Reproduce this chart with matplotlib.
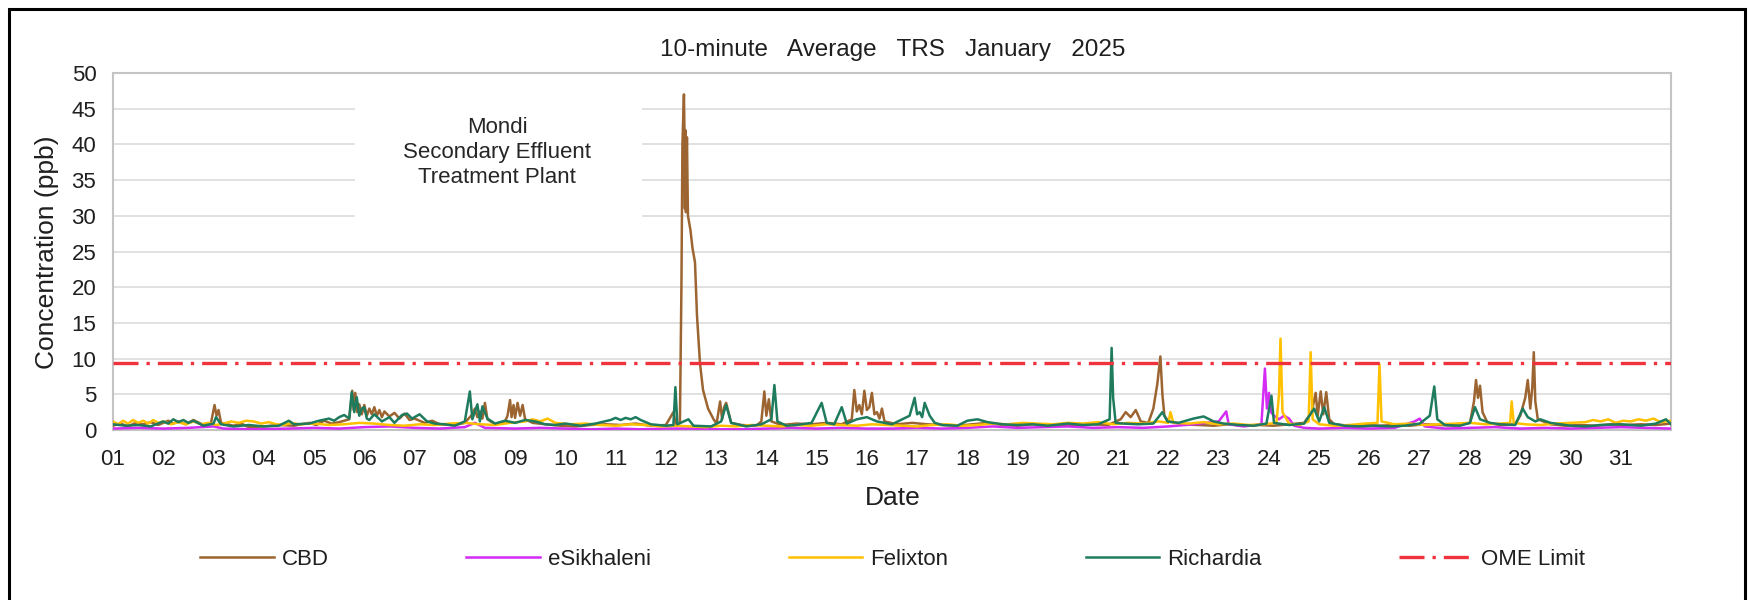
import numpy as np
import matplotlib
matplotlib.use("Agg")
import matplotlib.pyplot as plt
from matplotlib.patches import Rectangle

plt.rcParams['font.family'] = ['Liberation Sans', 'DejaVu Sans']

# time in days since 1 Jan 00:00, concentration in ppb
cbd = [(0.0, 0.6), (0.15, 0.9), (0.3, 0.5), (0.45, 1.0), (0.6, 0.8), (0.75, 1.1),
       (0.9, 0.7), (1.1, 1.3), (1.2, 0.9), (1.3, 1.2), (1.45, 0.8), (1.6, 1.4),
       (1.8, 0.7), (1.95, 1.0), (2.02, 3.5), (2.06, 2.0), (2.1, 2.8), (2.15, 1.0),
       (2.4, 0.6), (2.55, 0.9), (2.7, 0.4), (3.0, 0.5), (3.3, 0.7), (3.6, 0.6),
       (3.9, 1.0), (4.05, 0.7), (4.2, 1.3), (4.35, 0.9), (4.5, 1.1), (4.7, 1.5),
       (4.76, 5.5), (4.79, 2.8), (4.82, 5.2), (4.86, 2.5), (4.9, 3.6), (4.95, 2.2),
       (5.0, 3.5), (5.05, 2.0), (5.1, 3.0), (5.15, 2.2), (5.2, 3.2), (5.25, 2.0),
       (5.3, 2.8), (5.35, 1.8), (5.4, 2.6), (5.5, 1.9), (5.6, 2.4), (5.7, 1.6),
       (5.8, 2.3), (5.9, 1.4), (6.0, 1.6), (6.2, 1.0), (6.35, 1.3), (6.5, 0.8),
       (6.8, 0.7), (7.0, 1.0), (7.15, 2.2), (7.2, 3.0), (7.25, 1.8), (7.3, 2.6),
       (7.35, 1.6), (7.4, 3.8), (7.45, 1.5), (7.6, 0.8), (7.8, 1.2), (7.85, 2.0),
       (7.9, 4.2), (7.93, 1.8), (7.97, 3.5), (8.0, 1.7), (8.05, 3.8), (8.1, 2.0),
       (8.15, 3.5), (8.2, 1.5), (8.35, 1.0), (8.6, 0.8), (8.9, 0.6), (9.2, 0.5),
       (9.5, 0.7), (9.8, 0.8), (10.1, 0.7), (10.4, 0.9), (10.7, 0.6), (11.0, 0.7),
       (11.15, 2.5), (11.2, 0.8), (11.28, 1.0), (11.31, 20.0), (11.33, 40.0),
       (11.36, 47.0), (11.37, 42.0), (11.38, 31.0), (11.39, 42.0), (11.4, 30.5),
       (11.42, 41.0), (11.44, 30.0), (11.49, 28.0), (11.53, 25.5), (11.58, 23.5),
       (11.62, 16.0), (11.68, 9.3), (11.74, 5.6), (11.84, 3.0), (11.95, 1.5),
       (12.01, 0.9), (12.08, 4.0), (12.12, 1.5), (12.16, 3.2), (12.2, 3.8),
       (12.3, 1.0), (12.5, 0.7), (12.8, 0.6), (12.9, 1.2), (12.96, 5.4),
       (13.0, 2.0), (13.05, 4.3), (13.1, 1.2), (13.3, 0.7), (13.6, 0.9),
       (13.9, 0.8), (14.2, 1.0), (14.5, 0.8), (14.7, 1.5), (14.75, 5.6),
       (14.8, 2.6), (14.85, 3.5), (14.9, 2.2), (14.95, 5.5), (15.0, 2.8),
       (15.05, 3.2), (15.1, 5.2), (15.15, 2.2), (15.2, 2.5), (15.25, 1.6),
       (15.3, 3.0), (15.35, 1.2), (15.6, 0.8), (15.9, 1.0), (16.2, 0.8),
       (16.5, 0.7), (16.8, 0.6), (17.1, 0.8), (17.4, 1.0), (17.7, 0.7),
       (18.0, 0.6), (18.3, 0.8), (18.6, 0.7), (18.9, 0.6), (19.2, 0.7),
       (19.5, 0.8), (19.8, 0.7), (20.05, 1.5), (20.15, 2.5), (20.25, 1.8),
       (20.35, 2.8), (20.45, 1.2), (20.6, 1.0), (20.7, 3.0), (20.78, 6.5),
       (20.84, 10.3), (20.88, 5.0), (20.92, 2.0), (21.0, 1.2), (21.3, 0.8),
       (21.6, 0.7), (21.9, 0.6), (22.2, 0.8), (22.5, 0.6), (22.8, 0.7),
       (23.1, 0.6), (23.4, 0.8), (23.7, 1.0), (23.85, 2.5), (23.93, 5.2),
       (23.97, 2.0), (24.03, 5.4), (24.08, 2.2), (24.14, 5.3), (24.2, 1.5),
       (24.3, 0.8), (24.6, 0.6), (24.9, 0.7), (25.2, 0.6), (25.5, 0.7),
       (25.8, 0.6), (26.1, 0.8), (26.4, 0.7), (26.7, 0.6), (27.0, 1.0),
       (27.08, 4.0), (27.12, 7.0), (27.16, 4.5), (27.2, 6.2), (27.25, 2.5),
       (27.35, 1.0), (27.6, 0.7), (27.9, 0.8), (28.0, 2.0), (28.1, 4.5),
       (28.15, 7.0), (28.2, 3.0), (28.24, 6.0), (28.27, 10.9), (28.3, 4.0),
       (28.35, 1.5), (28.6, 0.8), (28.9, 0.6), (29.2, 0.7), (29.5, 0.6),
       (29.8, 0.8), (30.1, 0.7), (30.4, 0.8), (30.7, 0.7), (31.0, 0.9)]

esikhaleni = [(0.0, 0.2), (0.5, 0.3), (1.0, 0.2), (1.5, 0.3), (2.0, 0.5), (2.2, 0.2),
              (2.8, 0.1), (3.5, 0.2), (4.0, 0.3), (4.5, 0.2), (5.0, 0.4), (5.5, 0.5),
              (6.0, 0.3), (6.5, 0.2), (7.0, 0.4), (7.2, 1.0), (7.4, 0.3), (8.0, 0.2),
              (8.5, 0.3), (9.0, 0.2), (9.5, 0.1), (10.0, 0.2), (10.5, 0.1), (11.0, 0.2),
              (11.5, 0.2), (12.0, 0.1), (12.5, 0.1), (13.0, 0.2), (13.5, 0.3),
              (14.0, 0.2), (14.5, 0.3), (15.0, 0.2), (15.5, 0.2), (16.0, 0.3),
              (16.5, 0.2), (17.0, 0.3), (17.5, 0.5), (18.0, 0.3), (18.5, 0.4),
              (19.0, 0.5), (19.5, 0.3), (20.0, 0.4), (20.5, 0.3), (21.0, 0.5),
              (21.5, 0.8), (22.0, 1.2), (22.15, 2.6), (22.2, 0.8), (22.5, 0.5),
              (22.85, 0.8), (22.92, 8.6), (22.96, 3.0), (23.0, 5.2), (23.04, 2.5),
              (23.1, 2.0), (23.2, 1.5), (23.3, 2.0), (23.4, 1.6), (23.5, 0.6),
              (23.7, 0.3), (24.0, 0.2), (24.5, 0.3), (25.0, 0.2), (25.5, 0.3),
              (25.9, 1.2), (26.0, 1.6), (26.1, 0.5), (26.5, 0.2), (27.0, 0.3),
              (27.5, 0.4), (28.0, 0.2), (28.5, 0.3), (29.0, 0.2), (29.5, 0.3),
              (30.0, 0.4), (30.5, 0.3), (31.0, 0.2)]

felixton = [(0.0, 1.2), (0.1, 0.8), (0.2, 1.3), (0.3, 0.9), (0.4, 1.4), (0.5, 1.0),
            (0.6, 1.3), (0.7, 0.9), (0.8, 1.4), (0.9, 1.0), (1.0, 1.2), (1.15, 0.8),
            (1.3, 1.1), (1.45, 0.8), (1.6, 1.2), (1.75, 0.8), (1.9, 1.0), (2.05, 0.7),
            (2.2, 0.9), (2.35, 1.2), (2.5, 1.0), (2.65, 1.3), (2.8, 1.2), (2.95, 0.9),
            (3.1, 1.1), (3.25, 0.8), (3.4, 0.7), (3.55, 1.0), (3.7, 0.8), (4.0, 0.9),
            (4.3, 0.7), (4.6, 0.8), (4.9, 1.0), (5.2, 0.9), (5.5, 0.7), (5.8, 0.6),
            (6.1, 0.8), (6.4, 0.7), (6.7, 0.9), (7.0, 1.0), (7.3, 0.8), (7.6, 0.7),
            (7.9, 1.0), (8.2, 1.2), (8.35, 1.5), (8.5, 1.2), (8.65, 1.6), (8.8, 1.0),
            (9.1, 0.8), (9.4, 0.9), (9.7, 0.7), (10.0, 0.6), (10.3, 0.8), (10.6, 0.7),
            (10.9, 0.5), (11.2, 0.6), (11.5, 0.5), (11.8, 0.4), (12.1, 0.6),
            (12.4, 0.5), (12.7, 0.7), (13.0, 0.6), (13.3, 0.5), (13.6, 0.7),
            (13.9, 0.6), (14.2, 0.8), (14.5, 0.7), (14.8, 0.6), (15.1, 0.8),
            (15.4, 0.7), (15.7, 0.6), (16.0, 0.5), (16.3, 0.7), (16.6, 0.8),
            (16.9, 0.6), (17.2, 0.7), (17.5, 0.9), (17.8, 0.8), (18.1, 1.0),
            (18.4, 0.9), (18.7, 0.8), (19.0, 1.0), (19.3, 0.9), (19.6, 1.1),
            (19.9, 0.8), (20.2, 1.0), (20.5, 0.9), (20.8, 1.2), (21.0, 1.0),
            (21.04, 2.5), (21.1, 1.0), (21.4, 0.9), (21.7, 1.1), (22.0, 0.8),
            (22.3, 0.9), (22.6, 0.7), (22.9, 0.8), (23.15, 1.0), (23.2, 5.0),
            (23.23, 12.8), (23.27, 2.5), (23.4, 0.9), (23.6, 0.7), (23.79, 1.2),
            (23.83, 10.9), (23.87, 1.5), (24.0, 0.8), (24.3, 0.6), (24.6, 0.7),
            (24.9, 0.9), (25.16, 1.0), (25.2, 9.2), (25.24, 1.2), (25.5, 0.8),
            (25.8, 0.9), (26.1, 0.7), (26.4, 0.8), (26.7, 0.9), (27.0, 1.0),
            (27.3, 0.8), (27.6, 0.9), (27.8, 1.0), (27.83, 4.0), (27.87, 1.0),
            (28.1, 0.8), (28.4, 0.7), (28.7, 0.9), (29.0, 1.0), (29.3, 1.1),
            (29.45, 1.4), (29.6, 1.2), (29.75, 1.5), (29.9, 1.0), (30.05, 1.3),
            (30.2, 1.2), (30.35, 1.5), (30.5, 1.3), (30.65, 1.6), (30.8, 1.1),
            (31.0, 1.3)]

richardia = [(0.0, 0.8), (0.25, 0.6), (0.5, 0.7), (0.75, 0.5), (1.0, 1.2), (1.1, 0.9),
             (1.2, 1.5), (1.3, 1.1), (1.4, 1.4), (1.5, 1.0), (1.6, 1.3), (1.8, 0.6),
             (2.0, 0.9), (2.05, 1.8), (2.15, 0.8), (2.4, 0.5), (2.7, 0.7), (3.0, 0.5),
             (3.3, 0.6), (3.5, 1.3), (3.6, 0.8), (3.9, 0.9), (4.1, 1.3), (4.3, 1.6),
             (4.4, 1.3), (4.5, 1.8), (4.6, 2.1), (4.7, 1.6), (4.75, 5.3), (4.8, 2.5),
             (4.85, 4.6), (4.9, 2.0), (4.95, 3.0), (5.0, 3.2), (5.05, 1.6), (5.1, 1.4),
             (5.2, 2.2), (5.35, 1.2), (5.5, 1.8), (5.6, 1.0), (5.75, 2.1), (5.85, 2.3),
             (5.95, 1.6), (6.0, 1.8), (6.1, 2.2), (6.25, 1.2), (6.4, 0.9), (6.6, 0.8),
             (6.8, 0.6), (7.0, 1.2), (7.1, 5.4), (7.15, 1.5), (7.25, 3.6), (7.3, 1.2),
             (7.35, 3.3), (7.45, 1.6), (7.6, 0.9), (7.8, 1.3), (8.0, 1.0), (8.2, 1.4),
             (8.4, 1.2), (8.6, 0.8), (8.8, 0.7), (9.0, 0.9), (9.3, 0.6), (9.6, 0.9),
             (9.9, 1.4), (10.0, 1.7), (10.1, 1.4), (10.2, 1.7), (10.3, 1.5), (10.4, 1.8),
             (10.5, 1.4), (10.7, 0.8), (11.0, 0.6), (11.15, 0.7), (11.19, 6.0),
             (11.23, 0.8), (11.45, 1.5), (11.55, 0.6), (11.9, 0.5), (12.1, 1.2),
             (12.2, 3.5), (12.3, 1.0), (12.6, 0.5), (12.9, 0.8), (13.1, 1.5),
             (13.16, 6.3), (13.22, 1.2), (13.4, 0.6), (13.6, 0.7), (13.9, 1.0),
             (14.1, 3.8), (14.2, 1.0), (14.35, 0.8), (14.5, 3.2), (14.6, 0.9),
             (14.8, 1.5), (15.0, 1.8), (15.2, 1.2), (15.5, 0.8), (15.85, 2.0),
             (15.95, 4.5), (16.0, 2.2), (16.05, 2.5), (16.1, 1.8), (16.15, 3.8),
             (16.25, 2.0), (16.35, 1.0), (16.5, 0.7), (16.8, 0.6), (17.0, 1.3),
             (17.2, 1.5), (17.4, 1.1), (17.7, 0.8), (18.0, 0.7), (18.3, 0.8),
             (18.6, 0.6), (19.0, 0.9), (19.3, 0.7), (19.6, 0.8), (19.83, 1.5),
             (19.87, 11.5), (19.9, 4.5), (19.95, 1.0), (20.1, 0.9), (20.4, 0.8),
             (20.7, 0.9), (20.88, 2.5), (20.98, 1.2), (21.2, 1.0), (21.5, 1.6),
             (21.7, 1.9), (21.9, 1.2), (22.1, 0.9), (22.4, 0.7), (22.7, 0.6),
             (22.95, 0.9), (23.05, 4.8), (23.1, 1.0), (23.4, 0.7), (23.7, 0.9),
             (23.9, 3.0), (24.0, 1.2), (24.1, 3.2), (24.2, 1.0), (24.5, 0.6),
             (24.8, 0.5), (25.1, 0.6), (25.4, 0.5), (25.7, 0.6), (26.0, 0.9),
             (26.2, 2.0), (26.29, 6.1), (26.35, 1.5), (26.5, 0.7), (26.8, 0.6),
             (27.0, 1.0), (27.1, 3.2), (27.2, 1.5), (27.4, 1.0), (27.6, 0.8),
             (27.9, 0.7), (28.05, 3.0), (28.15, 1.8), (28.3, 1.2), (28.4, 1.5),
             (28.6, 1.0), (28.8, 0.8), (29.0, 0.6), (29.3, 0.5), (29.6, 0.7),
             (30.0, 0.8), (30.4, 0.6), (30.7, 0.9), (30.9, 1.5), (31.0, 0.8)]

ome_limit = 9.4
day_labels = ['%02d' % d for d in range(1, 32)]

series = [('CBD', cbd, '#9C6430'),
          ('eSikhaleni', esikhaleni, '#D42BF5'),
          ('Felixton', felixton, '#FFC000'),
          ('Richardia', richardia, '#1E7B5E')]

fig = plt.figure(figsize=(17.5, 6), dpi=100)
ax = fig.add_axes([113 / 1750, 1 - 430 / 600, 1558 / 1750, 357 / 600])

for name, pts, col in series:
    t, v = np.array(pts).T
    ax.plot(t, v, color=col, lw=1.8, label=name, zorder=3)

ax.axhline(ome_limit, color='#F0323C', lw=2.4, linestyle=(0, (7.5, 2.4, 1, 2.4)),
           label='OME Limit', zorder=4)

ax.set_xlim(0, 31)
ax.set_ylim(0, 50)
ax.set_xticks(range(31))
ax.set_xticklabels(day_labels)
ax.set_xticks(range(32), minor=True)
ax.set_yticks(range(0, 51, 5))
ax.tick_params(axis='both', which='both', length=0, labelsize=16, colors='#1F1F1F')
ax.tick_params(axis='y', pad=12)
ax.tick_params(axis='x', pad=14)
ax.set_axisbelow(True)
ax.grid(True, which='minor', axis='x', color='#DCDCDC', lw=1.2)
ax.grid(True, which='major', axis='y', color='#DCDCDC', lw=1.2)
for s in ax.spines.values():
    s.set_color('#C4C4C4')
    s.set_linewidth(1.5)

# white label box on the plot
ax.add_patch(Rectangle((4.81, 29.0), 5.71, 17.6, facecolor='white', edgecolor='none', zorder=1))
ax.text(7.64, 38.8, 'Mondi\nSecondary Effluent\nTreatment Plant', ha='center', va='center',
        fontsize=16, color='#262626', linespacing=1.25, zorder=2)

fig.text(0.51, 0.917, '10-minute   Average   TRS   January   2025', ha='center', va='center',
         fontsize=17.5, color='#1F1F1F')
fig.text(0.027, 0.58, 'Concentration (ppb)', rotation=90, ha='center', va='center',
         fontsize=19, color='#1F1F1F')
fig.text(0.51, 0.17, 'Date', ha='center', va='center', fontsize=19, color='#1F1F1F')

fig.legend(loc='center', bbox_to_anchor=(0.51, 0.068), ncol=5, frameon=False,
           fontsize=16, handlelength=3.3, handletextpad=0.36, columnspacing=6.2,
           labelcolor='#1F1F1F')

# outer frame of the chart object
fig.add_artist(Rectangle((9 / 1750, -0.1), 1736 / 1750, 1.1 - 9 / 600, transform=fig.transFigure,
                         facecolor='none', edgecolor='black', lw=2.2, clip_on=False))

fig.savefig('out.png', dpi=100)
